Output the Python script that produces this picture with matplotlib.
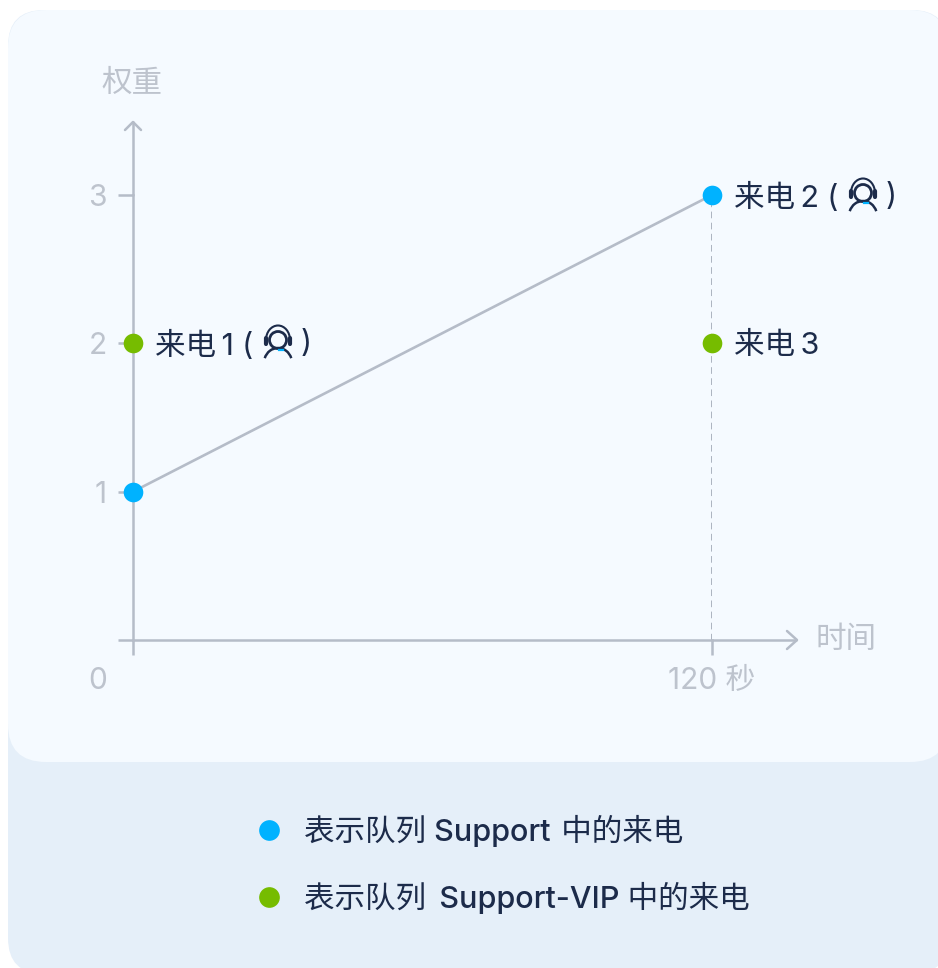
import matplotlib
matplotlib.use('Agg')
import matplotlib.pyplot as plt
from matplotlib.patches import FancyBboxPatch, Circle, Arc

plt.rcParams['font.family'] = ['Inter', 'Noto Sans CJK SC', 'DejaVu Sans']

# chart values
support_x = [0, 120]
support_y = [1, 3]
vip_x = [0, 120]
vip_y = [2, 2]
x_ticks = [0, 120]
y_ticks = [0, 1, 2, 3]
y_tick_labels = ['', '1', '2', '3']
x_tick_labels = ['0', '120 秒']
legend_labels = ['表示队列 Support \u200a中的来电', '表示队列 \u2009Support-VIP 中的来电']

BLUE = '#00b2ff'
GREEN = '#76bc00'
AXIS = '#b5bcc8'
MUTED = '#bdc3cd'
DARK = '#1c2b4a'
W, H = 938, 968
FS = 22

fig = plt.figure(figsize=(W / 100, H / 100), dpi=100, facecolor='white')

# page layer in pixel coordinates
bg = fig.add_axes([0, 0, 1, 1])
bg.set_xlim(0, W)
bg.set_ylim(H, 0)
bg.axis('off')


def panel(x0, y0, x1, y1, r, color):
    bg.add_patch(FancyBboxPatch((x0 + r, y0 + r), x1 - x0 - 2 * r, y1 - y0 - 2 * r,
                                boxstyle=f'round,pad={r},rounding_size={r}',
                                fc=color, ec='none'))


panel(8, 10, 948, 974, 36, '#e5eff9')
panel(8, 10, 948, 762, 38, '#f5faff')

# data layer: 0-120 sits on 133-712 px, 0-3 sits on 640-195 px
ax = fig.add_axes([133 / W, 1 - 640 / H, (712 - 133) / W, (640 - 195) / H])
ax.set_xlim(0, 120)
ax.set_ylim(0, 3)
ax.patch.set_alpha(0)
for side in ['top', 'right']:
    ax.spines[side].set_visible(False)
for side in ['left', 'bottom']:
    ax.spines[side].set_color(AXIS)
    ax.spines[side].set_linewidth(1.8)
ax.set_xticks(x_ticks)
ax.set_xticklabels([])
ax.set_yticks(y_ticks)
ax.set_yticklabels(y_tick_labels)
ax.tick_params(axis='both', length=11, width=1.8, color=AXIS, labelcolor=MUTED,
               labelsize=21.5)
ax.tick_params(axis='y', pad=8)

# the 0 label sits left of the origin, the 120 label is centred on its tick
for tick, label, dx in zip(x_ticks, x_tick_labels, [-35, 0]):
    ax.annotate(label, (tick, 0), xytext=(dx, -41), textcoords='offset pixels',
                color=MUTED, fontsize=21.5, ha='center', va='center', annotation_clip=False)

ax.plot(support_x, support_y, color=AXIS, lw=1.9, zorder=2)
ax.plot([support_x[1], support_x[1]], [0, support_y[1]], color='#a5adba', lw=2.0,
        dashes=(2.4, 1.6), zorder=2)
ax.scatter(support_x, support_y, s=200, color=BLUE, zorder=4, clip_on=False, linewidths=0)
ax.scatter(vip_x, vip_y, s=200, color=GREEN, zorder=4, clip_on=False, linewidths=0)

# text, arrows and icons on top, again in pixel coordinates
top = fig.add_axes([0, 0, 1, 1])
top.set_xlim(0, W)
top.set_ylim(H, 0)
top.axis('off')
top.patch.set_alpha(0)


def chevron(pts):
    top.plot([p[0] for p in pts], [p[1] for p in pts], color=AXIS, lw=1.8,
             solid_capstyle='round', solid_joinstyle='round')


chevron([(133, 195), (133, 122)])
chevron([(125, 130), (133, 122), (141, 130)])
chevron([(712, 640), (796, 640)])
chevron([(787, 631), (797, 640), (787, 649)])

top.text(132, 84, '权重', color=MUTED, fontsize=FS, ha='center', va='center')
top.text(846, 640, '时间', color=MUTED, fontsize=FS, ha='center', va='center')


def headset(cx, cy):
    # little agent icon next to the call labels
    lw = 1.5
    top.add_patch(Circle((cx, cy - 3), 8.5, fc='none', ec=DARK, lw=lw + 0.5))
    top.add_patch(Arc((cx, cy - 3), 24, 29, theta1=180, theta2=360, ec=DARK, lw=lw))
    top.add_patch(Arc((cx, cy + 20), 28, 30, theta1=200, theta2=340, ec=DARK, lw=lw + 0.3))
    top.plot([cx - 12, cx - 12], [cy - 5, cy + 1], color=DARK, lw=3, solid_capstyle='round')
    top.plot([cx + 12, cx + 12], [cy - 5, cy + 1], color=DARK, lw=3, solid_capstyle='round')
    top.plot([cx + 1, cx + 5], [cy + 7, cy + 7], color=BLUE, lw=1.6)


top.text(155, 346, '来电\u20091\u2009\u200a(', color=DARK, fontsize=FS, va='center')
headset(278, 343)
top.text(301, 344, ')', color=DARK, fontsize=FS, va='center')
top.text(734, 198, '来电\u20092\u2009\u200a(', color=DARK, fontsize=FS, va='center')
headset(863, 196)
top.text(886, 197, ')', color=DARK, fontsize=FS, va='center')
top.text(734, 346, '来电\u20093', color=DARK, fontsize=FS, va='center')

# legend
for y_px, color, label in zip([830, 897], [BLUE, GREEN], legend_labels):
    top.scatter([269], [y_px], s=222, color=color, linewidths=0)
    top.text(304, y_px + 1, label, color=DARK, fontsize=FS, va='center', fontweight='medium')

fig.savefig('out.png', dpi=100, facecolor='white')
